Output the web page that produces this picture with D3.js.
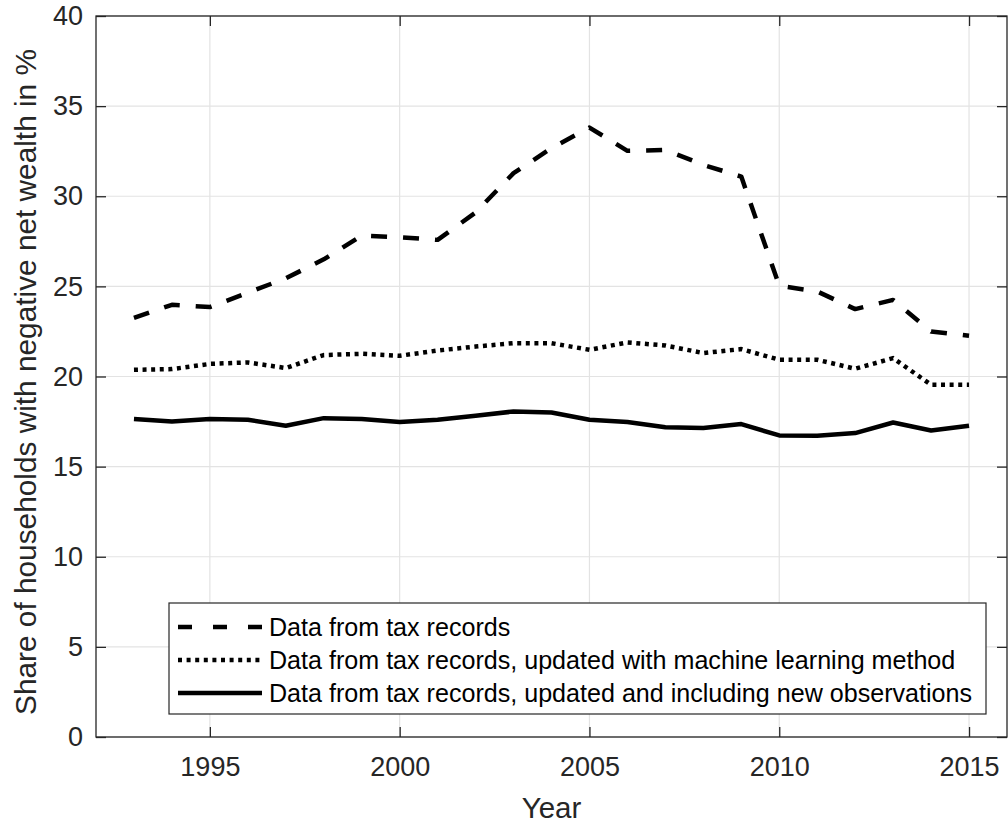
<!DOCTYPE html>
<html>
<head>
<meta charset="utf-8">
<script src="https://cdn.jsdelivr.net/npm/d3@7"></script>
<style>
  body { margin: 0; background: #fff; }
  svg text { font-family: "Liberation Sans", Arial, Helvetica, sans-serif; fill: #262626; }
</style>
</head>
<body>
<div id="chart"></div>
<script>
// data
const years = [1993, 1994, 1995, 1996, 1997, 1998, 1999, 2000, 2001, 2002, 2003, 2004,
               2005, 2006, 2007, 2008, 2009, 2010, 2011, 2012, 2013, 2014, 2015];
const taxRecords = [23.25, 23.98, 23.85, 24.65, 25.45, 26.5, 27.82, 27.73, 27.58, 29.1, 31.28, 32.67,
                    33.81, 32.52, 32.57, 31.74, 31.09, 25.03, 24.72, 23.74, 24.25, 22.5, 22.26];
const machineLearning = [20.37, 20.41, 20.7, 20.78, 20.47, 21.19, 21.26, 21.15, 21.44, 21.66, 21.85, 21.85,
                         21.48, 21.89, 21.72, 21.3, 21.52, 20.93, 20.93, 20.43, 21.02, 19.54, 19.54];
const newObservations = [17.64, 17.5, 17.64, 17.6, 17.27, 17.69, 17.64, 17.47, 17.6, 17.82, 18.06, 18.0,
                         17.6, 17.47, 17.19, 17.14, 17.36, 16.73, 16.71, 16.86, 17.45, 17.0, 17.27];
const seriesNames = ["Data from tax records",
                     "Data from tax records, updated with machine learning method",
                     "Data from tax records, updated and including new observations"];
const xTicks = [1995, 2000, 2005, 2010, 2015];
const yTicks = [0, 5, 10, 15, 20, 25, 30, 35, 40];

const W = 1008, H = 825;
const plotLeft = 96, plotTop = 16, plotRight = 1007, plotBottom = 737;

const svg = d3.select("#chart").append("svg")
    .attr("width", W)
    .attr("height", H);

const x = d3.scaleLinear().domain([1992, 2016]).range([plotLeft, plotRight]);
const y = d3.scaleLinear().domain([0, 40]).range([plotBottom, plotTop]);

// grid
const grid = svg.append("g").attr("class", "grid");
grid.selectAll(".gx").data(xTicks).enter().append("line")
    .attr("x1", d => x(d)).attr("x2", d => x(d))
    .attr("y1", plotTop).attr("y2", plotBottom)
    .attr("stroke", "#e3e3e3").attr("stroke-width", 1.2);
grid.selectAll(".gy").data(yTicks).enter().append("line")
    .attr("x1", plotLeft).attr("x2", plotRight)
    .attr("y1", d => y(d)).attr("y2", d => y(d))
    .attr("stroke", "#e3e3e3").attr("stroke-width", 1.2);

// lines
const line = d3.line()
    .x((d, i) => x(years[i]))
    .y(d => y(d));

const styles = [
    { data: taxRecords, dash: "16,16", legendDash: "14,21" },
    { data: machineLearning, dash: "4,4.6", legendDash: "4,4.6" },
    { data: newObservations, dash: null, legendDash: null }
];

styles.forEach(function (s) {
    svg.append("path")
        .datum(s.data)
        .attr("d", line)
        .attr("fill", "none")
        .attr("stroke", "#000")
        .attr("stroke-width", 4.5)
        .attr("stroke-linejoin", "round")
        .attr("stroke-dasharray", s.dash);
});

// axes, MATLAB style box with inward ticks
const axisColor = "#262626";
svg.append("g")
    .attr("transform", "translate(0," + plotBottom + ")")
    .call(d3.axisBottom(x).tickValues(xTicks).tickSize(-10).tickPadding(20).tickFormat(d3.format("d")))
    .call(g => g.select(".domain").remove());
svg.append("g")
    .attr("transform", "translate(0," + plotTop + ")")
    .call(d3.axisTop(x).tickValues(xTicks).tickSize(-10).tickFormat(""))
    .call(g => g.select(".domain").remove());
svg.append("g")
    .attr("transform", "translate(" + plotLeft + ",0)")
    .call(d3.axisLeft(y).tickValues(yTicks).tickSize(-10).tickPadding(13))
    .call(g => g.select(".domain").remove());
svg.append("g")
    .attr("transform", "translate(" + plotRight + ",0)")
    .call(d3.axisRight(y).tickValues(yTicks).tickSize(-10).tickFormat(""))
    .call(g => g.select(".domain").remove());

svg.selectAll(".tick line").attr("stroke", axisColor).attr("stroke-width", 1.3);
svg.selectAll(".tick text")
    .style("font-size", "27px")
    .attr("fill", axisColor);

svg.append("rect")
    .attr("x", plotLeft).attr("y", plotTop)
    .attr("width", plotRight - plotLeft).attr("height", plotBottom - plotTop)
    .attr("fill", "none")
    .attr("stroke", axisColor)
    .attr("stroke-width", 1.3);

// axis labels
svg.append("text")
    .attr("x", (plotLeft + plotRight) / 2)
    .attr("y", 818)
    .attr("text-anchor", "middle")
    .style("font-size", "29.5px")
    .text("Year");

svg.append("text")
    .attr("transform", "translate(36,382) rotate(-90)")
    .attr("text-anchor", "middle")
    .style("font-size", "29.8px")
    .text("Share of households with negative net wealth in %");

// legend
const legend = svg.append("g").attr("class", "legend");
legend.append("rect")
    .attr("x", 169).attr("y", 603)
    .attr("width", 986 - 169).attr("height", 714 - 603)
    .attr("fill", "#fff")
    .attr("stroke", axisColor)
    .attr("stroke-width", 1.2);

const rowY = [627, 660, 693];
styles.forEach(function (s, i) {
    legend.append("line")
        .attr("x1", 178).attr("x2", 262)
        .attr("y1", rowY[i]).attr("y2", rowY[i])
        .attr("stroke", "#000")
        .attr("stroke-width", 4.5)
        .attr("stroke-dasharray", s.legendDash);
    legend.append("text")
        .attr("x", 269)
        .attr("y", rowY[i])
        .attr("dy", "0.35em")
        .style("font-size", "25.1px")
        .style("fill", "#000")
        .text(seriesNames[i]);
});
</script>
</body>
</html>
